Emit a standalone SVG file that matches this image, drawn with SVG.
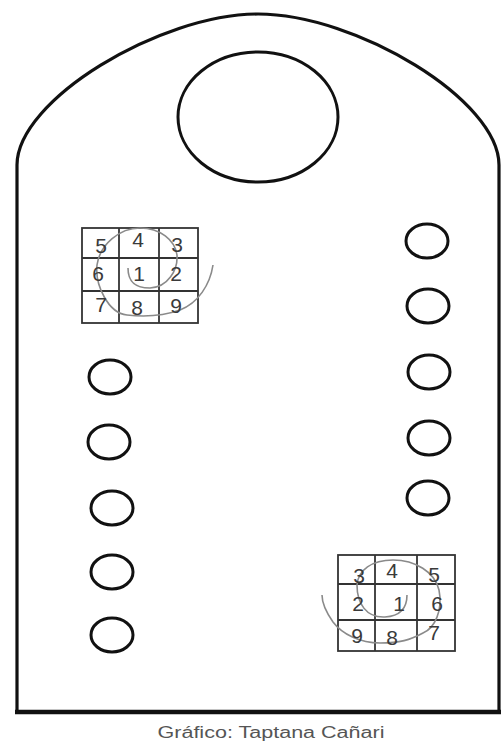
<svg xmlns="http://www.w3.org/2000/svg" width="501" height="743" viewBox="0 0 501 743">
<style>
.outline{fill:none;stroke:#111;stroke-width:3.2}
.hole{fill:none;stroke:#111;stroke-width:3}
.grid{fill:none;stroke:#333;stroke-width:1.8}
.spiral{fill:none;stroke:#8a8a8a;stroke-width:1.6}
.num{font-family:"Liberation Sans",Arial,sans-serif;font-size:21px;fill:#3a3a3a;text-anchor:middle}
.cap{font-family:"Liberation Sans",Arial,sans-serif;font-size:16px;fill:#555;text-anchor:middle}
</style>
<rect width="501" height="743" fill="#fff"/>
<g id="board">
<path class="outline" d="M17 165 C17 100 160 14 258 14 C356 14 499 100 499 165 L499 712 L17 712 Z"/>
<line x1="15" y1="712" x2="501" y2="712" stroke="#111" stroke-width="4.5"/>
</g>
<g id="top-hole"><ellipse class="hole" cx="258" cy="117" rx="80" ry="65"/></g>
<g id="right-holes">
<ellipse class="hole" cx="427" cy="241" rx="21" ry="17"/>
<ellipse class="hole" cx="428" cy="306" rx="21" ry="17"/>
<ellipse class="hole" cx="429" cy="372" rx="21" ry="17"/>
<ellipse class="hole" cx="429" cy="438" rx="21" ry="17"/>
<ellipse class="hole" cx="428" cy="498" rx="21" ry="17"/>
</g>
<g id="left-holes">
<ellipse class="hole" cx="110" cy="377" rx="21" ry="17"/>
<ellipse class="hole" cx="109" cy="442" rx="21" ry="17"/>
<ellipse class="hole" cx="112" cy="508" rx="21" ry="17"/>
<ellipse class="hole" cx="112" cy="572" rx="21" ry="17"/>
<ellipse class="hole" cx="112" cy="635" rx="21" ry="17"/>
</g>
<g id="grid-top">
<rect class="grid" x="82" y="228" width="116" height="95"/>
<line class="grid" x1="119" y1="228" x2="119" y2="323"/>
<line class="grid" x1="159" y1="228" x2="159" y2="323"/>
<line class="grid" x1="82" y1="258" x2="198" y2="258"/>
<line class="grid" x1="82" y1="291" x2="198" y2="291"/>
<path class="spiral" d="M128 268 C128 280 133 288 150 288 C168 287 178 270 177 255 C175 240 160 228 140 228 C120 228 100 244 97 265 C95 285 108 313 127 315 C145 317 163 316 180 310 C198 303 210 285 213 265"/>
<text class="num" x="101" y="253">5</text>
<text class="num" x="138" y="247">4</text>
<text class="num" x="177" y="252">3</text>
<text class="num" x="98" y="281">6</text>
<text class="num" x="139" y="281">1</text>
<text class="num" x="176" y="281">2</text>
<text class="num" x="101" y="312">7</text>
<text class="num" x="137" y="315">8</text>
<text class="num" x="176" y="313">9</text>
</g>
<g id="grid-bottom">
<rect class="grid" x="338" y="555" width="117" height="96"/>
<line class="grid" x1="375" y1="555" x2="375" y2="651"/>
<line class="grid" x1="417" y1="555" x2="417" y2="651"/>
<line class="grid" x1="338" y1="584" x2="455" y2="584"/>
<line class="grid" x1="338" y1="620" x2="455" y2="620"/>
<path class="spiral" d="M407 595 C407 606 402 616 385 617 C366 618 357 603 357 585 C358 570 372 560 393 560 C415 560 435 572 439 590 C443 610 435 628 423 633 C410 640 400 643 380 643 C360 643 342 634 333 622 C326 612 322 603 322 595"/>
<text class="num" x="359" y="583">3</text>
<text class="num" x="392" y="578">4</text>
<text class="num" x="434" y="582">5</text>
<text class="num" x="358" y="611">2</text>
<text class="num" x="399" y="611">1</text>
<text class="num" x="437" y="611">6</text>
<text class="num" x="357" y="643">9</text>
<text class="num" x="392" y="645">8</text>
<text class="num" x="434" y="640">7</text>
</g>
<text class="cap" x="271" y="738" textLength="227" lengthAdjust="spacingAndGlyphs">Gráfico: Taptana Cañari</text>
</svg>
